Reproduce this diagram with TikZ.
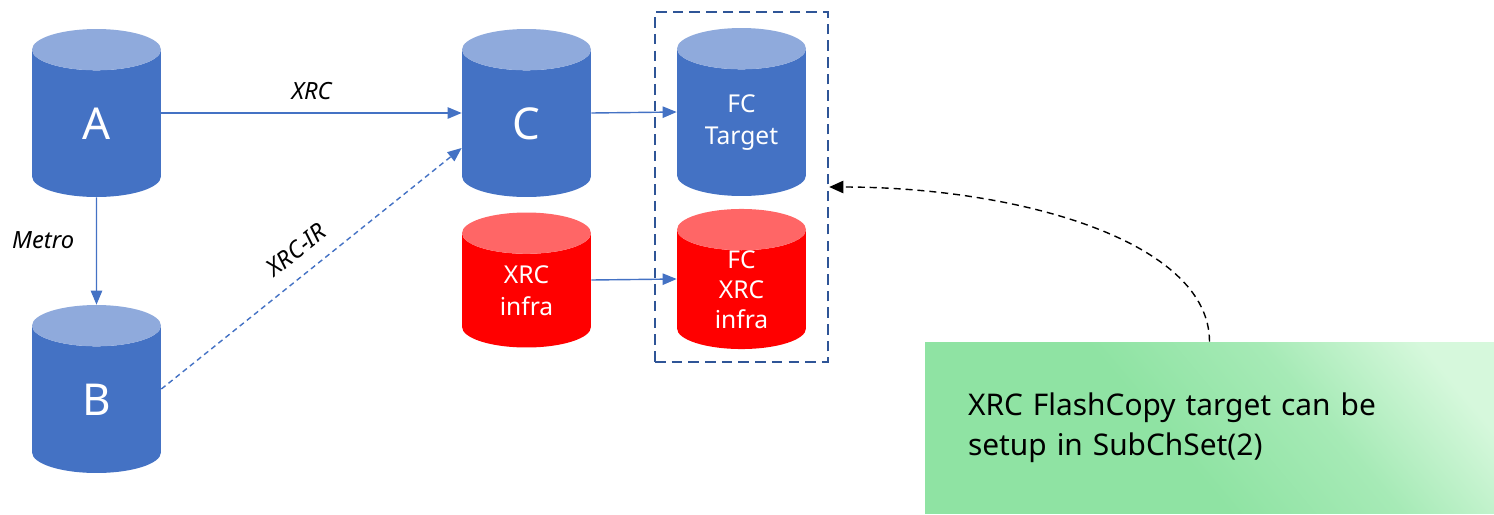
\documentclass[tikz,border=0pt]{standalone}
\usepackage{fontspec}
\setmainfont{Noto Sans}
\usetikzlibrary{shapes.geometric,arrows.meta}
\definecolor{dbblue}{HTML}{4472C4}
\definecolor{dbtop}{HTML}{8FAADC}
\definecolor{infrared}{HTML}{FF0000}
\definecolor{infratop}{HTML}{FF6666}
\definecolor{boxblue}{HTML}{2F5597}
\definecolor{notelight}{HTML}{D6F8DC}
\definecolor{notemid}{HTML}{A6EAB6}
\definecolor{notegreen}{HTML}{8FE3A3}
\pgfdeclarehorizontalshading{noteshade}{100bp}{color(0bp)=(notegreen); color(45bp)=(notegreen);
  color(62bp)=(notemid); color(78bp)=(notelight); color(100bp)=(notelight)}

\begin{document}
\begin{tikzpicture}[x=0.02cm, y=-0.02cm,
  db/.style={cylinder, shape border rotate=90, aspect=0.32, anchor=shape center,
    cylinder uses custom fill, cylinder body fill=dbblue, cylinder end fill=dbtop,
    minimum width=2.58cm, minimum height=3.36cm, inner sep=0pt, text width=2.58cm,
    text=white, align=center, font=\fontsize{14}{18}\selectfont},
  infra/.style={db, cylinder body fill=infrared, cylinder end fill=infratop, minimum height=2.7cm},
  flow/.style={draw=dbblue, line width=0.8pt, -{Triangle[length=8pt, width=6.5pt]}},
  lbl/.style={font=\fontsize{13.5}{15}\selectfont\itshape}]
  \useasboundingbox (0,0) rectangle (1494,514);

  % volumes
  \node[db, font=\fontsize{25}{30}\selectfont] at (96.5,113) (A) {A};
  \node[db, font=\fontsize{25}{30}\selectfont] at (96.5,389) (B) {B};
  \node[db, font=\fontsize{25}{30}\selectfont] at (526.5,113) (C) {C};
  \node[db] at (741.5,112) (fct) {FC\\Target};
  \node[infra] at (526.5,280) (xi) {XRC\\infra};
  \node[infra, font=\fontsize{14}{17}\selectfont] at (741.5,279) (fcx) {FC\\XRC\\infra};

  % flashcopy group
  \node[draw=boxblue, line width=1.4pt, dash pattern=on 6pt off 3.5pt,
    minimum width=3.46cm, minimum height=7cm] at (741.5,187) (fcbox) {};

  \draw[flow] (A.east |- A.shape center) -- node[lbl, above=4pt] {XRC} (C.west |- A.shape center);
  \draw[flow] (A.south) -- node[lbl, left=9pt, pos=0.4] {Metro} (B.north);
  \draw[flow, dash pattern=on 3pt off 2.2pt] (B.east |- B.shape center) -- node[lbl, sloped, above=5pt, pos=0.5] {XRC-IR} ([yshift=-0.7cm]C.west |- C.shape center);
  \draw[flow] (C.east |- C.shape center) -- (fct.west |- fct.shape center);
  \draw[flow] (xi.east |- xi.shape center) -- (fcx.west |- fcx.shape center);

  % note
  \node[shading=noteshade, shading angle=40,
    minimum width=11.38cm, minimum height=3.44cm, text width=9.66cm, inner xsep=0.86cm,
    align=left, font=\fontsize{17}{22.7}\selectfont] at (1209.5,428) (note)
    {XRC FlashCopy target can be\\setup in SubChSet(2)};
  \draw[dash pattern=on 4pt off 2.8pt, line width=0.8pt, -{Triangle[length=8pt, width=7pt]}]
    (note.north) .. controls +(0,-100) and +(190,0) .. (fcbox.east);
\end{tikzpicture}
\end{document}
